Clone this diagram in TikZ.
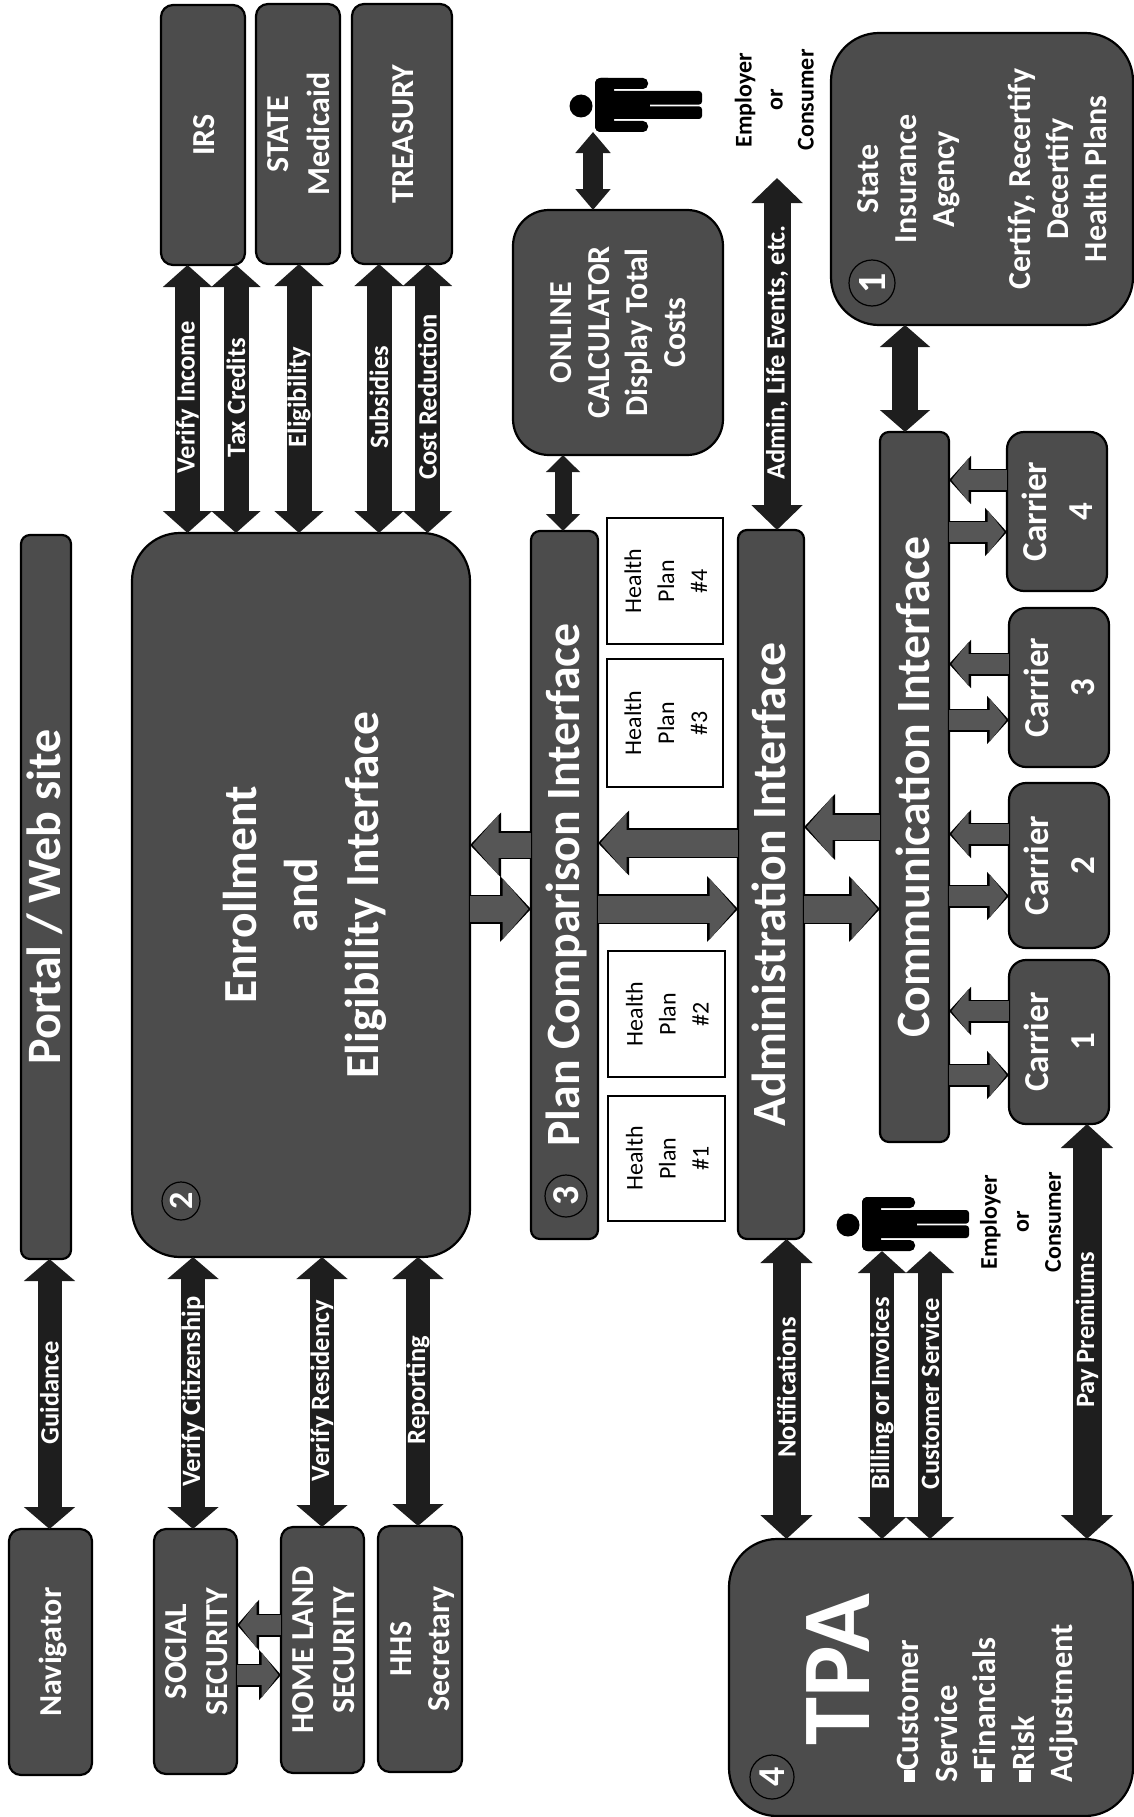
\documentclass[tikz,border=0pt]{standalone}
\usepackage{graphicx}
\usepackage{fontspec}
\setmainfont{Carlito}
\usetikzlibrary{arrows.meta,calc}
\definecolor{boxc}{HTML}{4C4C4C}
\definecolor{arrc}{HTML}{1E1E1E}
\definecolor{garc}{HTML}{565656}
\newcommand\rt[3]{{\fontsize{#1}{#2}\selectfont\makebox[0pt][c]{\hspace*{.2em}\rotatebox{90}{\begin{tabular}{@{}c@{}}#3\end{tabular}}}}}
\newcommand\sq{\raisebox{.1em}{\rule{.36em}{.36em}}}
\newcommand\bx[7]{%
 \pgfmathsetmacro\bw{#5-#3}\pgfmathsetmacro\bh{#6-#4}%
 \pgfmathsetmacro\bcx{(#3+#5)/2}\pgfmathsetmacro\bcy{(#4+#6)/2}%
 \node[#2,minimum width=\bw pt,minimum height=\bh pt] (#1) at (\bcx,\bcy) {#7};}
\newcommand\garr[5]{%
 \pgfmathsetmacro\wo{#3+3}\pgfmathsetmacro\ho{#4+4}\pgfmathsetmacro\lo{#5+5}%
 \draw[line width=\wo pt,draw=black,-{Triangle[length=\lo pt,width=\ho pt]}] #1 -- #2;
 \draw[line width=#3pt,draw=garc,shorten >=2.5pt,-{Triangle[length=#5pt,width=#4pt]}] #1 -- #2;}
\newcommand\person[2]{%
 \begin{scope}[shift={(#1,#2)}]
 \fill[black] (581,106) circle (11.5);
 \fill[black,rounded corners=5pt] (595,78) rectangle (648,89);
 \fill[black,rounded corners=5pt] (595,121) rectangle (648,132);
 \fill[black,rounded corners=6pt] (595,78) rectangle (614,132);
 \fill[black,rounded corners=3pt] (605,91) rectangle (702,104.6);
 \fill[black,rounded corners=3pt] (605,106.4) rectangle (702,119);
 \fill[black] (605,95) rectangle (650,115);
 \end{scope}}
\tikzset{
 dbox/.style={draw=black,line width=2.2pt,fill=boxc,text=white,font=\bfseries,inner sep=0pt,outer sep=0pt},
 smallbox/.style={dbox,rounded corners=12pt},
 bandbox/.style={dbox,rounded corners=9pt},
 carrierbox/.style={dbox,rounded corners=17pt},
 bigbox/.style={dbox,rounded corners=48pt},
 calcbox/.style={dbox,rounded corners=36pt},
 planbox/.style={draw=black,line width=2pt,fill=white,text=black,inner sep=0pt,outer sep=0pt},
 dbl/.style n args={3}{line width=#1pt,draw=arrc,{Triangle[length=#3pt,width=#2pt]}-{Triangle[length=#3pt,width=#2pt]}},
 lab/.style={rotate=90,xshift=1.5pt,text=white,font=\bfseries\fontsize{26.5}{28}\selectfont,inner sep=0pt},
 plain/.style={inner sep=0pt,outer sep=0pt},
 numc/.style={circle,draw=black,line width=1.2pt,fill=boxc,text=white,font=\bfseries,inner sep=0pt,minimum size=#1pt}
}
\begin{document}
\begin{tikzpicture}[x=1pt,y=-1pt]
\useasboundingbox (0,0) rectangle (1134,1817);
% boxes
\bx{irs}{smallbox}{161}{5}{245}{265}{\rt{32}{40}{IRS}}
\bx{state}{smallbox}{256}{4}{340}{264}{\rt{32}{41}{STATE\\Medicaid}}
\bx{treas}{smallbox}{352}{4}{452}{264}{\rt{32}{40}{TREASURY}}
\bx{portal}{bandbox}{21}{535}{71}{1259}{\rt{48}{50}{Portal / Web site}}
\bx{enroll}{bigbox}{132}{533}{470}{1257}{\rt{47.5}{61}{Enrollment\\and\\Eligibility Interface}}
\bx{plancmp}{bandbox}{531}{531}{598}{1239}{\rt{47.8}{50}{Plan Comparison Interface}}
\bx{admin}{bandbox}{738}{530}{804}{1239}{\rt{47.8}{50}{Administration Interface}}
\bx{comm}{bandbox}{880}{432}{949}{1142}{\rt{47.8}{50}{Communication Interface}}
\bx{calc}{calcbox}{513}{210}{723}{455}{\rt{32}{38}{ONLINE\\CALCULATOR\\Display Total\\Costs}}
\bx{sia}{bigbox}{831}{33}{1133}{325}{\rt{32}{38}{State\\Insurance\\Agency\\[38pt]Certify, Recertify\\Decertify\\Health Plans}}
\bx{car1}{carrierbox}{1009}{960}{1109}{1124}{\rt{35}{46}{Carrier\\1}}
\bx{car2}{carrierbox}{1009}{783}{1109}{948}{\rt{35}{46}{Carrier\\2}}
\bx{car3}{carrierbox}{1009}{608}{1109}{767}{\rt{35}{46}{Carrier\\3}}
\bx{car4}{carrierbox}{1007}{432}{1107}{591}{\rt{35}{46}{Carrier\\4}}
\bx{hp1}{planbox}{608}{1096}{725}{1221}{\rt{24}{33}{Health\\Plan\\\#1}}
\bx{hp2}{planbox}{608}{951}{725}{1077}{\rt{24}{33}{Health\\Plan\\\#2}}
\bx{hp3}{planbox}{607}{659}{723}{787}{\rt{24}{33}{Health\\Plan\\\#3}}
\bx{hp4}{planbox}{607}{518}{723}{644}{\rt{24}{33}{Health\\Plan\\\#4}}
\bx{nav}{smallbox}{9}{1529}{92}{1775}{\rt{32}{40}{Navigator}}
\bx{ss}{smallbox}{154}{1529}{237}{1774}{\rt{32}{41}{SOCIAL\\SECURITY}}
\bx{hls}{smallbox}{281}{1527}{364}{1773}{\rt{32}{41}{HOME LAND\\SECURITY}}
\bx{hhs}{smallbox}{378}{1526}{462}{1772}{\rt{32}{38}{HHS\\Secretary}}
\bx{tpa}{bigbox}{729}{1539}{1133}{1816}{}
% TPA contents
\node[plain,text=white,font=\bfseries] (tpatitle) at (838,1670) {\rotatebox{90}{\fontsize{97}{100}\selectfont TPA}};
\node[plain,text=white,font=\bfseries,anchor=south] (tpalist) at (988,1782) {\rotatebox{90}{\fontsize{32.5}{38.5}\selectfont\begin{tabular}{@{}l@{}}\sq Customer\\Service\\\sq Financials\\\sq Risk\\Adjustment\end{tabular}}};
% number badges
\node[numc=46] (n1) at (872,283) {\rotatebox{90}{\fontsize{40}{40}\selectfont 1}};
\node[numc=38] (n2) at (181,1201) {\rotatebox{90}{\fontsize{34}{36}\selectfont 2}};
\node[numc=42] (n3) at (566,1196) {\rotatebox{90}{\fontsize{38}{38}\selectfont 3}};
\node[numc=44] (n4) at (772,1777) {\rotatebox{90}{\fontsize{38}{38}\selectfont 4}};
% persons
\person{0}{0}
\person{267}{1119}
\coordinate (persontop) at (593,132);
\coordinate (personbot) at (906,1251);
\coordinate (adminfree) at (777,178);
% person captions
\node[plain,font=\bfseries] (cap1) at (774,100) {\rt{24}{31}{Employer\\or\\Consumer}};
\node[plain,font=\bfseries] (cap2) at (1020,1222) {\rt{24}{32}{Employer\\or\\Consumer}};
% labelled double arrows
\draw[dbl={25}{48}{22}] (irs.south -| 187.5,0) -- node[lab] (lvi) {Verify Income} (enroll.north -| 187.5,0);
\draw[dbl={25}{48}{22}] (irs.south -| 236,0) -- node[lab] (ltc) {Tax Credits} (enroll.north -| 236,0);
\draw[dbl={25}{48}{22}] (state.south -| 299,0) -- node[lab] (lel) {Eligibility} (enroll.north -| 299,0);
\draw[dbl={25}{48}{22}] (treas.south -| 379,0) -- node[lab] (lsu) {Subsidies} (enroll.north -| 379,0);
\draw[dbl={25}{48}{22}] (treas.south -| 427.5,0) -- node[lab] (lcr) {Cost Reduction} (enroll.north -| 427.5,0);
\draw[dbl={24}{50}{22}] (portal.south -| 49.5,0) -- node[lab] (lgu) {Guidance} (nav.north -| 49.5,0);
\draw[dbl={24}{50}{22}] (enroll.south -| 193,0) -- node[lab] (lvc) {Verify Citizenship} (ss.north -| 193,0);
\draw[dbl={24}{50}{22}] (enroll.south -| 322,0) -- node[lab] (lvr) {Verify Residency} (hls.north -| 322,0);
\draw[dbl={24}{50}{22}] (enroll.south -| 418,0) -- node[lab] (lre) {Reporting} (hhs.north -| 418,0);
\draw[dbl={28}{51}{24}] (admin.south -| 786.5,0) -- node[lab] (lno) {Notifications} (tpa.north -| 786.5,0);
\draw[dbl={24}{47}{22}] (personbot -| 882,0) -- node[lab] (lbi) {Billing or Invoices} (tpa.north -| 882,0);
\draw[dbl={24}{47}{22}] (personbot -| 930,0) -- node[lab] (lcs) {Customer Service} (tpa.north -| 930,0);
\draw[dbl={29}{51}{24}] (car1.south -| 1087,0) -- node[lab] (lpp) {Pay Premiums} (tpa.north -| 1087,0);
\draw[dbl={27}{50}{25}] (adminfree) -- node[lab] (lad) {Admin, Life Events, etc.} (admin.north -| 777,0);
% unlabelled double arrows
\draw[dbl={26}{49}{22}] (sia.south -| 905,0) -- (comm.north -| 905,0);
\draw[dbl={17}{33}{17}] (calc.south -| 563,0) -- (plancmp.north -| 563,0);
\draw[dbl={20}{34}{21}] (persontop) -- (calc.north -| 593,0);
% grey one-way arrows
\garr{(enroll.east |- 0,909)}{(plancmp.west |- 0,909)}{26}{60}{26}
\garr{(plancmp.west |- 0,845)}{(enroll.east |- 0,845)}{25}{59}{26}
\garr{(plancmp.east |- 0,909)}{(admin.west |- 0,909)}{27}{60}{26}
\garr{(admin.west |- 0,843)}{(plancmp.east |- 0,843)}{27}{59}{26}
\garr{(admin.east |- 0,909)}{(comm.west |- 0,909)}{27}{60}{26}
\garr{(comm.west |- 0,827)}{(admin.east |- 0,827)}{25}{60}{26}
\garr{(car4.west |- 0,480)}{(comm.east |- 0,480)}{20}{43}{17}
\garr{(comm.east |- 0,532)}{(car4.west |- 0,532)}{20}{43}{17}
\garr{(car3.west |- 0,664)}{(comm.east |- 0,664)}{20}{43}{17}
\garr{(comm.east |- 0,720)}{(car3.west |- 0,720)}{20}{43}{17}
\garr{(car2.west |- 0,834)}{(comm.east |- 0,834)}{20}{43}{17}
\garr{(comm.east |- 0,896)}{(car2.west |- 0,896)}{20}{43}{17}
\garr{(car1.west |- 0,1011)}{(comm.east |- 0,1011)}{20}{43}{17}
\garr{(comm.east |- 0,1075)}{(car1.west |- 0,1075)}{20}{43}{17}
\garr{(hls.west |- 0,1625)}{(ss.east |- 0,1625)}{20}{45}{17}
\garr{(ss.east |- 0,1675)}{(hls.west |- 0,1675)}{20}{45}{17}
\end{tikzpicture}
\end{document}
